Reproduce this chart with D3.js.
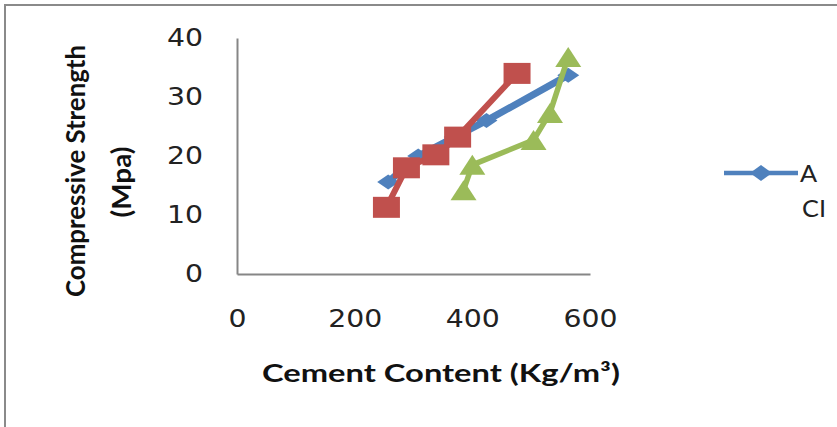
<!DOCTYPE html>
<html>
<head>
<meta charset="utf-8">
<script src="https://cdn.jsdelivr.net/npm/d3@7"></script>
<style>
    html, body { margin: 0; padding: 0; background: #fff; }
    svg { display: block; }
</style>
</head>
<body>
<div id="chart"></div>
<script>
// Chart data
const xTicks = [0, 200, 400, 600];
const yTicks = [0, 10, 20, 30, 40];

const cementA = [257, 308, 370, 424, 563];
const strengthA = [15.6, 20.0, 23.2, 26.0, 33.7];

const cementCI = [254, 288, 338, 375, 476];
const strengthCI = [11.3, 18.0, 20.2, 23.2, 34.0];

const cementC3 = [385, 400, 504, 532, 563];
const strengthC3 = [14.2, 18.5, 22.7, 27.3, 36.8];

const legendLabels = ['A', 'CI'];

const width = 837, height = 427;

const svg = d3.select('#chart')
    .append('svg')
    .attr('width', width)
    .attr('height', height);

// outer chart border (runs off the right / bottom edge)
svg.append('rect')
    .attr('x', 5).attr('y', 5)
    .attr('width', 900).attr('height', 500)
    .attr('fill', '#fff')
    .attr('stroke', '#8a8a8a')
    .attr('stroke-width', 2);

const x = d3.scaleLinear().domain([0, 600]).range([237, 590]);
const y = d3.scaleLinear().domain([0, 40]).range([274, 38]);

// stretch text horizontally like the reference
function stretch(sel, k) {
    sel.each(function () {
        const w = this.getComputedTextLength();
        d3.select(this)
            .attr('textLength', w * k)
            .attr('lengthAdjust', 'spacingAndGlyphs');
    });
}

// Axes
const xAxis = svg.append('g')
    .attr('transform', `translate(0,${y(0)})`)
    .call(d3.axisBottom(x).tickValues(xTicks).tickSize(0).tickSizeOuter(0).tickPadding(36));

const yAxis = svg.append('g')
    .attr('transform', `translate(${x(0)},0)`)
    .call(d3.axisLeft(y).tickValues(yTicks).tickSize(0).tickSizeOuter(0).tickPadding(34));

[xAxis, yAxis].forEach(ax => {
    ax.select('.domain').attr('stroke', '#868686').attr('stroke-width', 2);
    ax.selectAll('text')
        .attr('font-family', 'DejaVu Sans')
        .attr('font-size', 24)
        .attr('fill', '#222')
        .call(stretch, 1.18);
});

// Marker shapes (half-width, half-height)
function diamond(w, h) {
    return `M${-w},0L0,${-h}L${w},0L0,${h}Z`;
}
function square(w, h) {
    return `M${-w},${-h}H${w}V${h}H${-w}Z`;
}
function triangle(w, h) {
    return `M0,${-h}L${w},${h}H${-w}Z`;
}

const series = [
    { xs: cementA, ys: strengthA, color: '#4F81BD', lw: 7, marker: diamond(11, 7.5) },
    { xs: cementCI, ys: strengthCI, color: '#C0504D', lw: 6, marker: square(13.5, 10.5) },
    { xs: cementC3, ys: strengthC3, color: '#9BBB59', lw: 5.5, marker: triangle(13, 10) }
];

const line = d3.line()
    .x(d => x(d[0]))
    .y(d => y(d[1]));

series.forEach(s => {
    const pts = d3.zip(s.xs, s.ys);
    const g = svg.append('g');
    g.append('path')
        .datum(pts)
        .attr('d', line)
        .attr('fill', 'none')
        .attr('stroke', s.color)
        .attr('stroke-width', s.lw)
        .attr('stroke-linejoin', 'round');
    g.selectAll('path.mk')
        .data(pts)
        .join('path')
        .attr('class', 'mk')
        .attr('d', s.marker)
        .attr('transform', d => `translate(${x(d[0])},${y(d[1])})`)
        .attr('fill', s.color);
});

// Axis titles
svg.append('text')
    .attr('x', 441).attr('y', 382)
    .attr('text-anchor', 'middle')
    .attr('font-family', 'Lato')
    .attr('font-weight', 'bold')
    .attr('font-size', 25)
    .attr('fill', '#111')
    .attr('textLength', 358)
    .attr('lengthAdjust', 'spacingAndGlyphs')
    .text('Cement Content (Kg/m³)');

const yTitle = [
    { text: 'Compressive Strength', bx: 85, cy: 171, len: 252 },
    { text: '(Mpa)', bx: 131, cy: 182, len: 71 }
];
yTitle.forEach(t => {
    svg.append('text')
        .attr('transform', `translate(${t.bx},${t.cy}) rotate(-90)`)
        .attr('text-anchor', 'middle')
        .attr('font-family', 'Lato')
        .attr('font-weight', 'bold')
        .attr('font-size', 27)
        .attr('fill', '#111')
        .attr('textLength', t.len)
        .attr('lengthAdjust', 'spacingAndGlyphs')
        .text(t.text);
});

// Legend (only the first entry shows its line)
const legend = svg.append('g');
legend.append('line')
    .attr('x1', 724).attr('x2', 798)
    .attr('y1', 173).attr('y2', 173)
    .attr('stroke', series[0].color)
    .attr('stroke-width', 4.5);
legend.append('path')
    .attr('d', diamond(11, 8))
    .attr('transform', 'translate(761,173)')
    .attr('fill', series[0].color);

legend.selectAll('text')
    .data(legendLabels)
    .join('text')
    .attr('x', (d, i) => i === 0 ? 800 : 802)
    .attr('y', (d, i) => i === 0 ? 182 : 217)
    .attr('font-family', 'Lato')
    .attr('font-size', 23)
    .attr('fill', '#222')
    .text(d => d)
    .call(stretch, 1.1);
</script>
</body>
</html>
